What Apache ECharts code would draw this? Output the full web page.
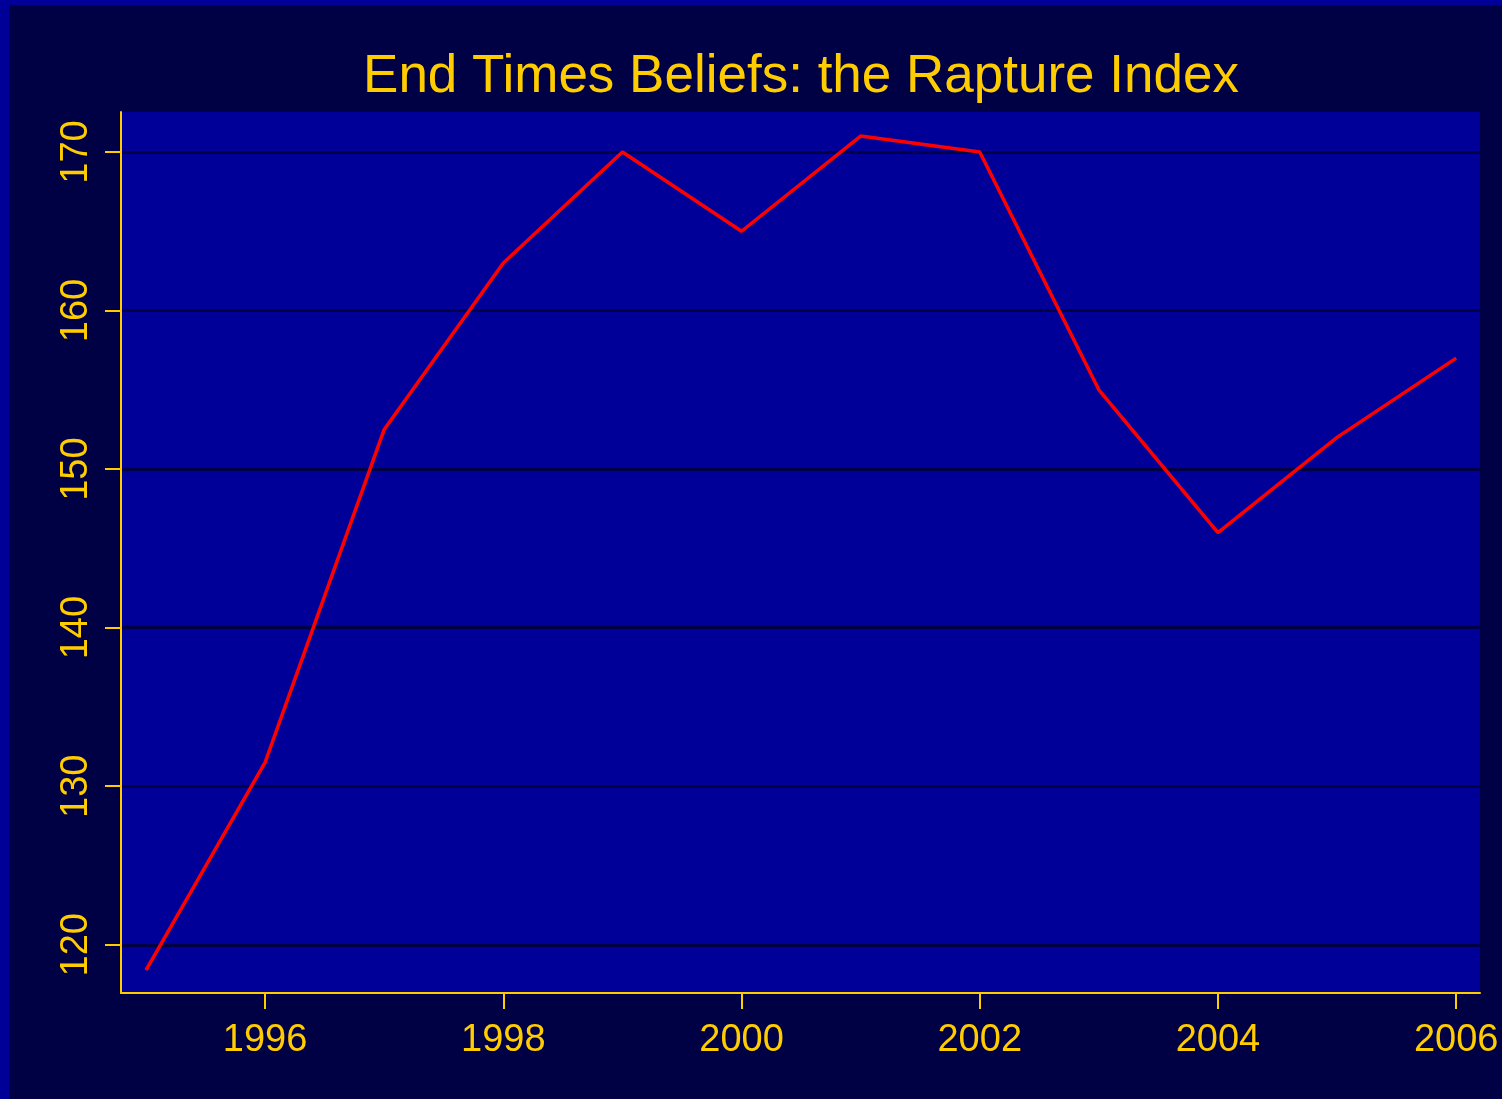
<!DOCTYPE html>
<html>
<head>
<meta charset="utf-8">
<script src="https://cdn.jsdelivr.net/npm/echarts@6/dist/echarts.min.js"></script>
<style>
html, body { margin: 0; padding: 0; background: #000099; width: 1502px; height: 1099px; overflow: hidden; }
#container { position: absolute; left: 9px; top: 5px; width: 1493px; height: 1094px; }
</style>
</head>
<body>
<div id="container"></div>
<script>
var years = [1995, 1996, 1997, 1998, 1999, 2000, 2001, 2002, 2003, 2004, 2005, 2006];
var rapture = [118.4, 131.5, 152.5, 163, 170, 165, 171, 170, 155, 146, 152, 157];
var xTicks = [1996, 1998, 2000, 2002, 2004, 2006];
var yTicks = [120, 130, 140, 150, 160, 170];

var gold = '#FFCC00';
var dom = document.getElementById('container');
var myChart = echarts.init(dom);

var option = {
    backgroundColor: '#000044',
    animation: false,
    title: {
        text: 'End Times Beliefs: the Rapture Index',
        left: 792,
        top: 46,
        padding: 0,
        textAlign: 'center',
        textStyle: {
            color: gold,
            fontSize: 53,
            fontWeight: 'normal',
            fontFamily: 'Liberation Sans, Arial, sans-serif'
        }
    },
    grid: {
        left: 112,
        right: 22,
        top: 107,
        bottom: 106,
        show: true,
        backgroundColor: '#000099',
        borderWidth: 0
    },
    xAxis: {
        type: 'value',
        min: 1994.79,
        max: 2006.2,
        axisLine: { show: true, lineStyle: { color: gold, width: 2 } },
        axisTick: { show: true, length: 16, lineStyle: { color: gold, width: 2 }, customValues: xTicks },
        axisLabel: {
            color: gold,
            fontSize: 38,
            margin: 29,
            fontFamily: 'Liberation Sans, Arial, sans-serif',
            customValues: xTicks,
            formatter: function (v) { return String(v); }
        },
        splitLine: { show: false }
    },
    yAxis: {
        type: 'value',
        min: 116.96,
        max: 172.52,
        axisLine: { show: true, lineStyle: { color: gold, width: 2 } },
        axisTick: { show: true, length: 16, lineStyle: { color: gold, width: 2 }, customValues: yTicks },
        axisLabel: {
            color: gold,
            fontSize: 38,
            rotate: 90,
            margin: 25,
            fontFamily: 'Liberation Sans, Arial, sans-serif',
            customValues: yTicks
        },
        splitLine: { show: true, lineStyle: { color: '#000044', width: 3 } }
    },
    series: [{
        type: 'line',
        data: years.map(function (y, i) { return [y, rapture[i]]; }),
        showSymbol: false,
        lineStyle: { color: '#FF0000', width: 3.5 }
    }]
};

myChart.setOption(option);
</script>
</body>
</html>
